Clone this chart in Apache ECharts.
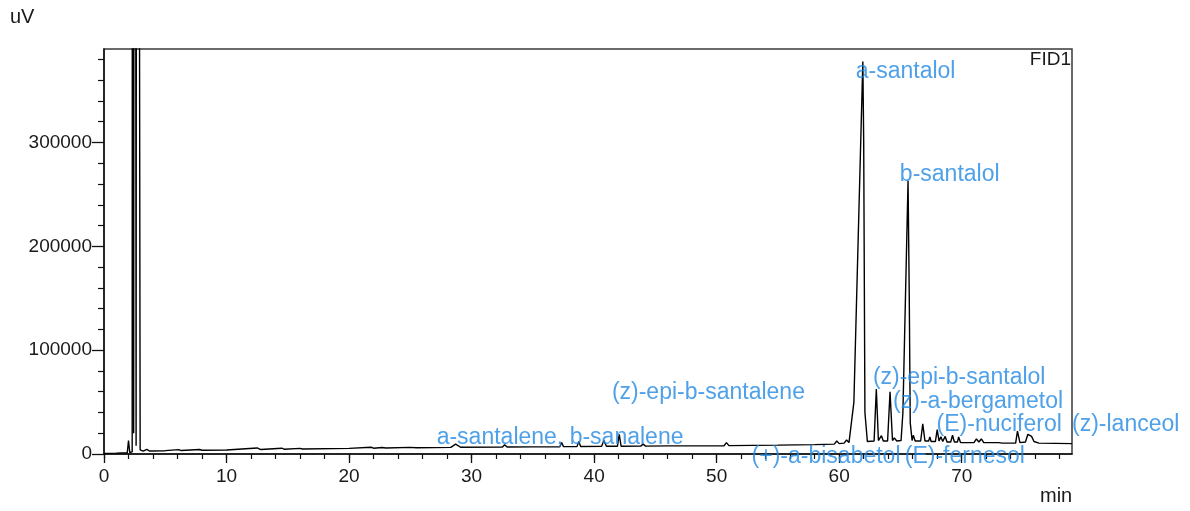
<!DOCTYPE html>
<html>
<head>
<meta charset="utf-8">
<script src="https://cdn.jsdelivr.net/npm/echarts@6/dist/echarts.min.js"></script>
<style>html,body{margin:0;padding:0;background:#fff}#c{width:1190px;height:511px}</style>
</head>
<body>
<div id="c"></div>
<script>
// ---- data ----
const xMajorTicks = [0, 10, 20, 30, 40, 50, 60, 70];
const xMinorTicks = [0,2,4,6,8,10,12,14,16,18,20,22,24,26,28,30,32,34,36,38,40,42,44,46,48,50,52,54,56,58,60,62,64,66,68,70,72,74,76,78];
const yMajorTicks = [0, 100000, 200000, 300000];
const yMinorTicks = [20000,40000,60000,80000,120000,140000,160000,180000,220000,240000,260000,280000,320000,340000,360000,380000];

// chromatogram trace: [time (min), signal (uV)]
const trace = [
  [0,500],[1,800],[1.9,1200],[2.0,13000],[2.1,1500],[2.3,2000],[2.34,2000000],[2.42,20000],
  [2.5,2000000],[2.62,8000],[2.7,2000000],[2.95,4000],[3.2,2800],[3.5,4500],
  [3.7,2900],[5,3200],[6.1,4200],[6.3,3300],[7.8,4300],[8,3600],[10,3900],[12.5,5800],[12.8,4300],
  [14.5,5600],[14.7,4600],[16,5400],[16.2,4800],[20,5400],[21.8,6500],[22,5600],[22.7,6300],
  [23,5800],[25,6400],[25.5,6000],[28.3,6400],[28.7,9500],[29.1,6500],[32.5,6600],[32.7,8800],
  [32.9,6700],[35,6900],[37.2,7000],[37.35,11000],[37.5,7100],[38.6,7100],[38.75,12000],[38.9,7200],
  [40.6,7300],[40.8,13000],[41,7400],[41.9,7400],[42.05,19000],[42.2,7500],[43.8,7600],[44,9500],
  [44.2,7600],[46,7800],[50.6,8000],[50.8,11000],[51,8100],[55,8500],[58,9000],[59.6,9500],
  [59.8,12500],[60.0,10000],[60.4,10500],[60.6,13500],[60.8,11000],[60.95,11500],[61.2,50000],
  [61.93,378000],[62.0,300000],[62.1,40000],[62.3,12000],[62.85,12500],[63.03,62500],[63.2,13000],
  [63.35,12500],[63.45,17600],[63.6,12500],[63.95,12500],[64.15,60000],[64.35,13000],[64.5,15500],
  [64.7,12500],[65.05,13000],[65.2,40000],[65.62,263000],[65.72,150000],[65.8,30000],[65.95,13000],
  [66.05,18000],[66.2,12500],[66.65,12500],[66.82,29000],[67.0,12500],[67.3,12500],[67.4,16500],
  [67.5,12000],[67.85,12000],[68.0,23500],[68.15,12500],[68.3,16500],[68.45,12000],[68.65,17000],
  [68.8,11500],[69.1,11500],[69.25,18000],[69.4,11500],[69.65,11500],[69.75,16500],[69.9,11000],
  [71.0,11000],[71.2,14500],[71.4,11500],[71.6,14500],[71.8,11000],[73.0,11000],[73.1,12500],
  [73.3,10500],[74.4,10500],[74.55,22000],[74.75,11000],[75.2,11500],[75.4,19000],[75.55,19500],
  [75.7,17000],[75.9,12000],[76.0,13500],[76.3,10500],[79,10000]
];

// peak annotations: text and the data point where the text starts
const peakNames = ['a-santalol','b-santalol','(z)-epi-b-santalene','a-santalene, b-sanalene',
  '(z)-epi-b-santalol','(z)-a-bergametol','(E)-nuciferol','(z)-lanceol','(+)-a-bisabetol','(E)-fernesol'];
const peakLabelT = [61.35, 64.95, 41.45, 27.15, 62.75, 64.4, 67.95, 79.0, 52.85, 65.35];
const peakLabelV = [368000, 269000, 59000, 15500, 73500, 50500, 28000, 28000, -3000, -3000];

const BLUE = '#2288e2';
const FONT = '"Liberation Sans", Arial, sans-serif';

const chart = echarts.init(document.getElementById('c'), null, {renderer: 'canvas'});
const labelData = peakNames.map((n, i) => ({name: n, value: [peakLabelT[i], peakLabelV[i]]}));

chart.setOption({
  animation: false,
  backgroundColor: '#fff',
  grid: {left: 104, right: 118, top: 49, bottom: 57, show: true, borderColor: '#3a3a3a', borderWidth: 1.5, backgroundColor: 'transparent'},
  xAxis: [
    {type: 'value', min: 0, max: 79, position: 'bottom',
     axisLine: {show: true, onZero: false, lineStyle: {color: '#111', width: 1.5}},
     axisTick: {show: true, customValues: xMajorTicks, length: 9, inside: false, lineStyle: {color: '#111', width: 1.3}},
     axisLabel: {customValues: xMajorTicks, margin: 13, color: '#1a1a1a', fontSize: 19, fontFamily: FONT},
     splitLine: {show: false}},
    {type: 'value', min: 0, max: 79, position: 'bottom',
     axisLine: {show: false},
     axisTick: {show: true, customValues: xMinorTicks, length: 5, lineStyle: {color: '#111', width: 1.2}},
     axisLabel: {show: false}, splitLine: {show: false}}
  ],
  yAxis: [
    {type: 'value', min: 0, max: 390000, position: 'left',
     axisLine: {show: true, onZero: false, lineStyle: {color: '#111', width: 1.5}},
     axisTick: {show: true, customValues: yMajorTicks, length: 12, lineStyle: {color: '#111', width: 1.3}},
     axisLabel: {customValues: yMajorTicks, margin: 12, color: '#1a1a1a', fontSize: 19, fontFamily: FONT,
                 formatter: v => String(v)},
     splitLine: {show: false}},
    {type: 'value', min: 0, max: 390000, position: 'left',
     axisLine: {show: false},
     axisTick: {show: true, customValues: yMinorTicks, length: 6, lineStyle: {color: '#111', width: 1.2}},
     axisLabel: {show: false}, splitLine: {show: false}}
  ],
  series: [
    {type: 'line', data: trace, xAxisIndex: 0, yAxisIndex: 0, showSymbol: false, symbol: 'none',
     clip: true, lineStyle: {color: '#000', width: 1.4}, z: 2, silent: true},
    {type: 'scatter', data: labelData, xAxisIndex: 0, yAxisIndex: 0, symbolSize: 0, clip: false, silent: true, z: 5,
     label: {show: true, position: 'right', distance: 0, formatter: '{b}', color: BLUE, fontSize: 23, fontFamily: FONT}}
  ],
  graphic: [
    {type: 'text', left: 10, top: 7, style: {text: 'uV', fill: '#1a1a1a', font: '20px ' + FONT}},
    {type: 'text', right: 1190 - 1071, top: 50, style: {text: 'FID1', fill: '#1a1a1a', font: '19px ' + FONT}},
    {type: 'text', left: 1040, top: 486, style: {text: 'min', fill: '#1a1a1a', font: '20px ' + FONT}}
  ]
});
</script>
</body>
</html>
